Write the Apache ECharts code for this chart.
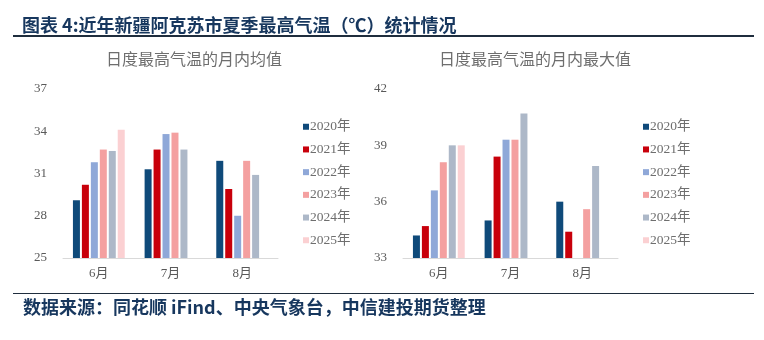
<!DOCTYPE html>
<html>
<head>
<meta charset="utf-8">
<script src="https://cdn.jsdelivr.net/npm/echarts@6/dist/echarts.min.js"></script>
<style>
html,body{margin:0;padding:0;background:#fff;}
#chart{width:764px;height:340px;}
</style>
</head>
<body>
<div id="chart"></div>
<script>
// Monthly categories and year series
const months = ['6月', '7月', '8月'];
const years = ['2020年', '2021年', '2022年', '2023年', '2024年', '2025年'];
const colors = ['#0f4a7a', '#c8000b', '#8fa8d8', '#f4a0a0', '#adb8c8', '#fbd0d2'];

// Monthly mean of daily max temperature (℃), per year
const mean2020 = [29.1, 31.3, 31.9];
const mean2021 = [30.2, 32.7, 29.9];
const mean2022 = [31.8, 33.8, 28.0];
const mean2023 = [32.7, 33.9, 31.9];
const mean2024 = [32.6, 32.7, 30.9];
const mean2025 = [34.1, null, null];

// Monthly maximum of daily max temperature (℃), per year
const max2020 = [34.2, 35.0, 36.0];
const max2021 = [34.7, 38.4, 34.4];
const max2022 = [36.6, 39.3, null];
const max2023 = [38.1, 39.3, 35.6];
const max2024 = [39.0, 40.7, 37.9];
const max2025 = [39.0, null, null];

// Axis ticks
const leftTicks = { min: 25, max: 37, interval: 3 };
const rightTicks = { min: 33, max: 42, interval: 3 };

const meanSets = [mean2020, mean2021, mean2022, mean2023, mean2024, mean2025];
const maxSets = [max2020, max2021, max2022, max2023, max2024, max2025];

const numFont = '"Liberation Serif", "Noto Sans CJK SC", serif';
const gray = '#595959';
const lightGray = '#6e6e6e';
const navy = '#17375e';

function makeSeries(sets, idx) {
  return sets.map((d, i) => ({
    name: years[i],
    type: 'bar',
    xAxisIndex: idx,
    yAxisIndex: idx,
    data: d,
    barWidth: 7,
    barGap: '28%',
    itemStyle: { color: colors[i] }
  }));
}

function xAxis(idx) {
  return {
    type: 'category',
    gridIndex: idx,
    data: months,
    axisLine: { lineStyle: { color: '#d9d9d9', width: 1 } },
    axisTick: { show: false },
    axisLabel: { color: gray, fontFamily: numFont, fontSize: 13, margin: 9 }
  };
}

function yAxis(idx, t) {
  return {
    type: 'value',
    gridIndex: idx,
    min: t.min, max: t.max, interval: t.interval,
    splitLine: { show: false },
    axisLine: { show: false },
    axisTick: { show: false },
    axisLabel: { color: gray, fontFamily: numFont, fontSize: 13, margin: 16 }
  };
}

function legend(left) {
  return {
    orient: 'vertical',
    left: left,
    top: 115,
    data: years,
    icon: 'rect',
    itemWidth: 6,
    itemHeight: 6,
    itemGap: 9.2,
    textStyle: { color: lightGray, fontFamily: numFont, fontSize: 13.5, padding: [0, 0, 0, -4] },
    selectedMode: false
  };
}

const chart = echarts.init(document.getElementById('chart'), null, { renderer: 'canvas' });
chart.setOption({
  backgroundColor: '#fff',
  animation: false,
  grid: [
    { left: 63, top: 89, width: 215, height: 169 },
    { left: 403, top: 89, width: 215, height: 169 }
  ],
  xAxis: [xAxis(0), xAxis(1)],
  yAxis: [yAxis(0, leftTicks), yAxis(1, rightTicks)],
  legend: [legend(298), legend(638)],
  series: makeSeries(meanSets, 0).concat(makeSeries(maxSets, 1)),
  graphic: [
    {
      type: 'text', x: 22, y: 25,
      style: { text: '图表 4:近年新疆阿克苏市夏季最高气温（℃）统计情况', fill: navy,
        font: 'bold 18px "Noto Sans CJK SC", sans-serif', textVerticalAlign: 'middle' }
    },
    { type: 'rect', shape: { x: 13, y: 35, width: 741, height: 2 }, style: { fill: '#1f2d3d' } },
    {
      type: 'text', x: 194, y: 59,
      style: { text: '日度最高气温的月内均值', fill: lightGray, font: '16px "Noto Sans CJK SC", sans-serif',
        textAlign: 'center', textVerticalAlign: 'middle' }
    },
    {
      type: 'text', x: 535, y: 59,
      style: { text: '日度最高气温的月内最大值', fill: lightGray, font: '16px "Noto Sans CJK SC", sans-serif',
        textAlign: 'center', textVerticalAlign: 'middle' }
    },
    { type: 'rect', shape: { x: 13, y: 293, width: 741, height: 1 }, style: { fill: '#1f2d3d' } },
    {
      type: 'text', x: 23, y: 307,
      style: { text: '数据来源：同花顺 iFind、中央气象台，中信建投期货整理', fill: navy,
        font: 'bold 18px "Noto Sans CJK SC", sans-serif', textVerticalAlign: 'middle' }
    }
  ]
});
</script>
</body>
</html>
